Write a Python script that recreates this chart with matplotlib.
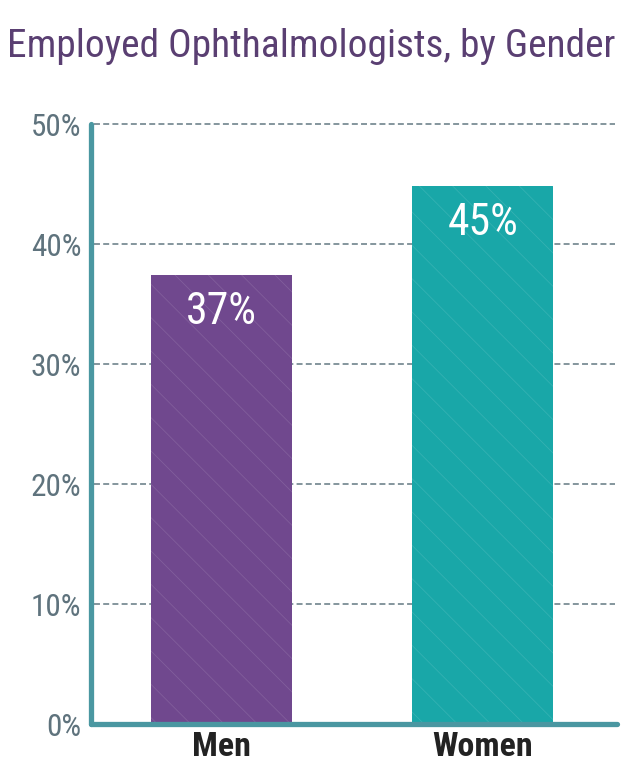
import matplotlib
matplotlib.use("Agg")
import matplotlib.pyplot as plt
from matplotlib.transforms import ScaledTranslation

plt.rcParams["font.family"] = ["Roboto Condensed", "DejaVu Sans"]
plt.rcParams["hatch.linewidth"] = 0.6

# ── Data ──
categories = ["Men", "Women"]
shares = [37.4, 44.8]
share_labels = ["37%", "45%"]
bar_colors = ["#70488e", "#19a7a8"]
yticks = [0, 10, 20, 30, 40, 50]
ytick_labels = ["0%", "10%", "20%", "30%", "40%", "50%"]

AXIS_COLOR = "#4a97a1"
GRID_COLOR = "#7b8e95"
TICK_COLOR = "#5f737d"
TITLE_COLOR = "#5a3f72"

W, H = 640, 784
fig = plt.figure(figsize=(W / 100, H / 100), dpi=100)
ax = fig.add_axes([90.5 / W, (H - 724) / H, (615 - 90.5) / W, 600 / H])

x = list(range(len(categories)))
ax.bar(x, shares, width=0.54, color=bar_colors, linewidth=0, zorder=2)
# faint diagonal texture on the bars
ax.bar(x, shares, width=0.54, facecolor="none", edgecolor=(1, 1, 1, 0.12),
       linewidth=0, hatch="\\", zorder=2.5)

ax.set_xlim(-0.502, 1.506)
ax.set_ylim(0, 50)

for s in ax.spines.values():
    s.set_visible(False)

# dashed grid
for v in yticks[1:]:
    ax.plot([0.006, 1.0], [v, v], transform=ax.get_yaxis_transform(),
            color=GRID_COLOR, lw=1.3, linestyle=(0, (3.3, 1.8)), zorder=1,
            clip_on=False)

# axis lines with rounded caps
ax.plot([0, 0], [0, 1], transform=ax.transAxes, color=AXIS_COLOR, lw=3.8,
        solid_capstyle="round", clip_on=False, zorder=3)
ax.plot([0, 1.004], [0, 0], transform=ax.transAxes, color=AXIS_COLOR, lw=3.8,
        solid_capstyle="round", clip_on=False, zorder=3)

# y tick labels, nudged slightly below their gridlines
ax.set_yticks([])
lab_tf = ax.get_yaxis_transform() + ScaledTranslation(-0.09, -0.03, fig.dpi_scale_trans)
for v, lab in zip(yticks, ytick_labels):
    ax.text(0, v, lab, transform=lab_tf, ha="right", va="center",
            fontsize=22.5, color=TICK_COLOR)

ax.set_xticks(x)
ax.set_xticklabels(categories, fontsize=24.5, fontweight="bold", color="#222222")
ax.tick_params(axis="x", length=0, pad=5)

for xi, v, lab in zip(x, shares, share_labels):
    ax.annotate(lab, (xi, v), xytext=(0, -35), textcoords="offset points",
                ha="center", va="baseline", fontsize=31.5, color="white",
                zorder=4)

fig.text(7 / W, 1 - 57 / H, "Employed Ophthalmologists, by Gender",
         fontsize=28.4, color=TITLE_COLOR, ha="left", va="baseline")

fig.savefig("out.png", dpi=100)
